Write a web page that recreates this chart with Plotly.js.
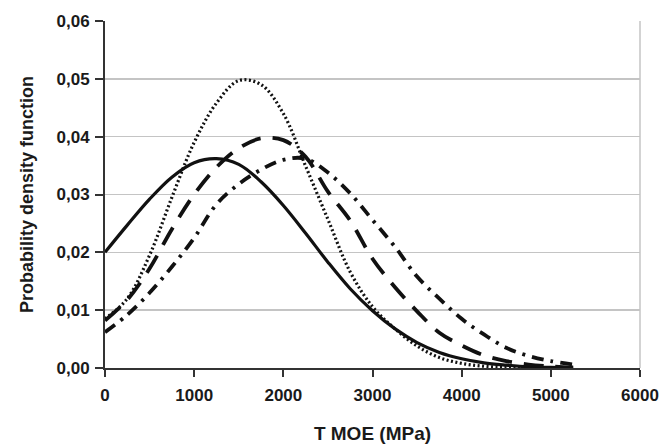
<!DOCTYPE html>
<html>
<head>
<meta charset="utf-8">
<script src="https://cdn.plot.ly/plotly-3.0.1.min.js"></script>
<style>html,body{margin:0;padding:0;background:#fff;}#chart{width:663px;height:444px;}</style>
</head>
<body>
<div id="chart"></div>
<script>
// T MOE (MPa)
const moe = [0,250,500,750,1000,1250,1500,1750,2000,2250,2500,2750,3000,3250,3500,3750,4000,4250,4500,4750,5000,5250];
const solidPdf   = [0.0200,0.0247,0.0292,0.0330,0.0355,0.0362,0.0352,0.0322,0.0281,0.0233,0.0183,0.0137,0.0099,0.0068,0.0044,0.0027,0.0016,0.0009,0.0005,0.0002,0.0001,0.0000];
const dottedPdf  = [0.0085,0.0120,0.0195,0.0295,0.0390,0.0458,0.0497,0.0490,0.0440,0.0349,0.0257,0.0166,0.0106,0.0068,0.0038,0.0018,0.0008,0.0003,0.0001,0.0000,0.0000,0.0000];
const longdashPdf= [0.0082,0.0118,0.0172,0.0240,0.0300,0.0347,0.0380,0.0397,0.0394,0.0365,0.0305,0.0255,0.0189,0.0140,0.0098,0.0061,0.0039,0.0022,0.0012,0.0006,0.0003,0.0001];
const dashdotPdf = [0.0062,0.0092,0.0130,0.0175,0.0225,0.0283,0.0318,0.0343,0.0360,0.0362,0.0338,0.0302,0.0256,0.0210,0.0158,0.0120,0.0085,0.0058,0.0035,0.0021,0.0012,0.0006];
const yTicks = [0,0.01,0.02,0.03,0.04,0.05,0.06];
const xTicks = [0,1000,2000,3000,4000,5000,6000];

const lineCol = '#111';
const traces = [
  {x: moe, y: solidPdf, mode:'lines', line:{color:lineCol, width:3.2, shape:'spline', dash:'solid'}},
  {x: moe, y: dottedPdf, mode:'lines', line:{color:lineCol, width:3.2, shape:'spline', dash:'2px,2.5px'}},
  {x: moe, y: longdashPdf, mode:'lines', line:{color:lineCol, width:3.8, shape:'spline', dash:'20px,12px'}},
  {x: moe, y: dashdotPdf, mode:'lines', line:{color:lineCol, width:3.8, shape:'spline', dash:'12px,7px,3px,7px'}}
];

const fam = 'Liberation Sans, Arial, sans-serif';
const tickF = {family:fam, size:17, color:'#1a1a1a', weight:'bold'};
const layout = {
  width:663, height:444,
  margin:{l:105, r:23, t:21, b:76},
  paper_bgcolor:'#fff', plot_bgcolor:'#fff',
  separators:', ',
  showlegend:false,
  font: tickF,
  xaxis:{
    range:[0,6000], tickvals:xTicks, tickformat:'d',
    showgrid:false, zeroline:false,
    showline:true, linecolor:'#333', linewidth:2,
    ticks:'outside', ticklen:7, tickwidth:2, tickcolor:'#333',
    tickfont: tickF, ticklabelstandoff:4,
    title:{text:'T MOE (MPa)', font:{family:fam, size:19, color:'#1a1a1a', weight:'bold'}, standoff:22}
  },
  yaxis:{
    range:[0,0.06], tickvals:yTicks, tickformat:'.2f',
    showgrid:true, gridcolor:'#c4c4c4', gridwidth:1.5, zeroline:false,
    showline:true, linecolor:'#333', linewidth:2,
    ticks:'outside', ticklen:8, tickwidth:2, tickcolor:'#333',
    tickfont: tickF, ticklabelstandoff:2,
    title:{text:'Probability density function', font:{family:fam, size:18, color:'#1a1a1a', weight:'bold'}, standoff:18}
  },
  shapes:[
    {type:'line', xref:'paper', yref:'paper', x0:1, x1:1, y0:0, y1:1, line:{color:'#c4c4c4', width:1.5}}
  ]
};
Plotly.newPlot('chart', traces, layout, {staticPlot:true, displayModeBar:false});
</script>
</body>
</html>
